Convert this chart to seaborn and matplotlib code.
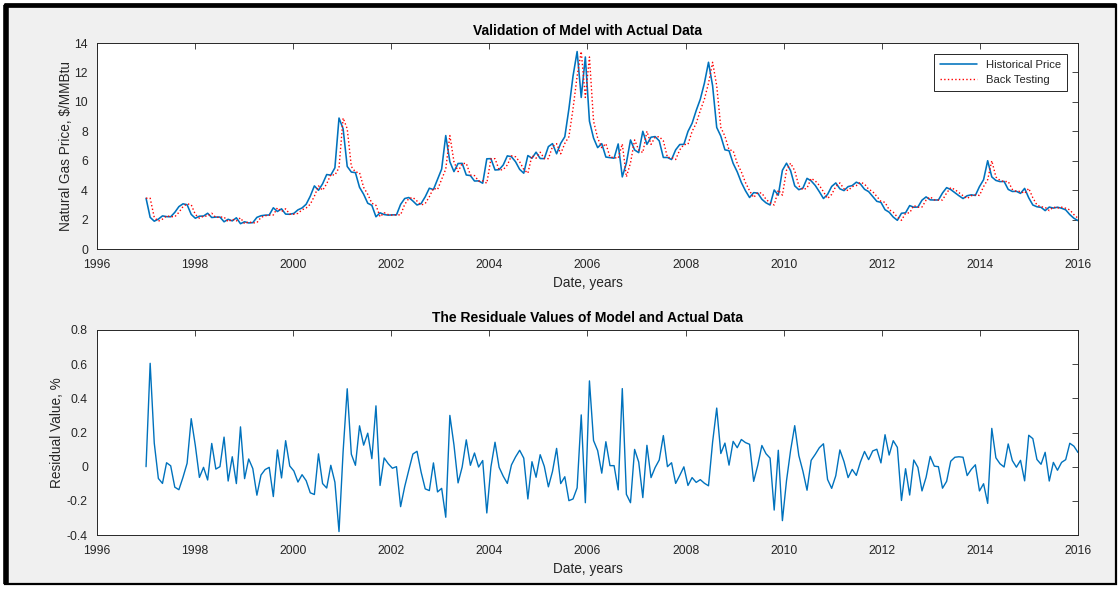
import numpy as np
import pandas as pd
import matplotlib
matplotlib.use("Agg")
import matplotlib.pyplot as plt
import seaborn as sns
from matplotlib.patches import Rectangle
from matplotlib.lines import Line2D

# Monthly Henry Hub natural gas spot price, $/MMBtu, Jan 1997 - Dec 2015
price = [
    3.45, 2.15, 1.89, 2.03, 2.25, 2.20, 2.19, 2.49, 2.88, 3.07, 3.01, 2.35,   # 1997
    2.09, 2.23, 2.24, 2.43, 2.14, 2.17, 2.17, 1.85, 2.02, 1.91, 2.12, 1.72,   # 1998
    1.85, 1.77, 1.79, 2.15, 2.26, 2.30, 2.31, 2.80, 2.55, 2.73, 2.37, 2.36,   # 1999
    2.42, 2.66, 2.79, 3.04, 3.59, 4.29, 3.99, 4.43, 5.06, 5.02, 5.52, 8.90,   # 2000
    8.17, 5.61, 5.23, 5.19, 4.19, 3.72, 3.11, 2.97, 2.19, 2.46, 2.34, 2.30,   # 2001
    2.32, 2.32, 3.03, 3.43, 3.50, 3.26, 2.99, 3.09, 3.55, 4.13, 4.04, 4.74,   # 2002
    5.43, 7.71, 5.93, 5.26, 5.81, 5.82, 5.03, 4.99, 4.62, 4.63, 4.47, 6.13,   # 2003
    6.14, 5.37, 5.39, 5.71, 6.33, 6.27, 5.93, 5.41, 5.15, 6.35, 6.17, 6.58,   # 2004
    6.15, 6.14, 6.96, 7.16, 6.47, 7.18, 7.63, 9.53, 11.75, 13.42, 10.30, 13.05,  # 2005
    8.69, 7.54, 6.89, 7.16, 6.25, 6.21, 6.17, 7.14, 4.90, 5.85, 7.41, 6.73,   # 2006
    6.55, 8.00, 7.11, 7.60, 7.64, 7.35, 6.22, 6.22, 6.08, 6.74, 7.10, 7.11,   # 2007
    7.99, 8.54, 9.41, 10.18, 11.27, 12.69, 11.09, 8.26, 7.67, 6.74, 6.68, 5.82,  # 2008
    5.24, 4.52, 3.96, 3.50, 3.83, 3.80, 3.38, 3.14, 2.99, 4.01, 3.66, 5.35,   # 2009
    5.83, 5.32, 4.29, 4.03, 4.14, 4.80, 4.63, 4.32, 3.89, 3.43, 3.71, 4.25,   # 2010
    4.49, 4.09, 3.97, 4.24, 4.31, 4.54, 4.42, 4.06, 3.90, 3.57, 3.24, 3.17,   # 2011
    2.67, 2.50, 2.17, 1.95, 2.43, 2.46, 2.95, 2.84, 2.85, 3.32, 3.54, 3.34,   # 2012
    3.33, 3.33, 3.81, 4.17, 4.04, 3.83, 3.62, 3.43, 3.62, 3.68, 3.64, 4.24,   # 2013
    4.71, 6.00, 4.90, 4.66, 4.58, 4.59, 4.05, 3.91, 3.92, 3.78, 4.12, 3.48,   # 2014
    2.99, 2.87, 2.83, 2.61, 2.85, 2.78, 2.84, 2.77, 2.66, 2.34, 2.09, 1.93,   # 2015
]

# One-step-ahead back-test forecast for each month
back_testing = [
    3.45, 3.45, 2.15, 1.89, 2.03, 2.25, 2.20, 2.19, 2.49, 2.88, 3.07, 3.01,
    2.35, 2.09, 2.23, 2.24, 2.43, 2.14, 2.17, 2.17, 1.85, 2.02, 1.91, 2.12,
    1.72, 1.85, 1.77, 1.79, 2.15, 2.26, 2.30, 2.31, 2.80, 2.55, 2.73, 2.37,
    2.36, 2.42, 2.66, 2.79, 3.04, 3.59, 4.29, 3.99, 4.43, 5.06, 5.02, 5.52,
    8.90, 8.17, 5.61, 5.23, 5.19, 4.19, 3.72, 3.11, 2.97, 2.19, 2.46, 2.34,
    2.30, 2.32, 2.32, 3.03, 3.43, 3.50, 3.26, 2.99, 3.09, 3.55, 4.13, 4.04,
    4.74, 5.43, 7.71, 5.93, 5.26, 5.81, 5.82, 5.03, 4.99, 4.62, 4.63, 4.47,
    6.13, 6.14, 5.37, 5.39, 5.71, 6.33, 6.27, 5.93, 5.41, 5.15, 6.35, 6.17,
    6.58, 6.15, 6.14, 6.96, 7.16, 6.47, 7.18, 7.63, 9.53, 11.75, 13.42, 10.30,
    13.05, 8.69, 7.54, 6.89, 7.16, 6.25, 6.21, 6.17, 7.14, 4.90, 5.85, 7.41,
    6.73, 6.55, 8.00, 7.11, 7.60, 7.64, 7.35, 6.22, 6.22, 6.08, 6.74, 7.10,
    7.11, 7.99, 8.54, 9.41, 10.18, 11.27, 12.69, 11.09, 8.26, 7.67, 6.74, 6.68,
    5.82, 5.24, 4.52, 3.96, 3.50, 3.83, 3.80, 3.38, 3.14, 2.99, 4.01, 3.66,
    5.35, 5.83, 5.32, 4.29, 4.03, 4.14, 4.80, 4.63, 4.32, 3.89, 3.43, 3.71,
    4.25, 4.49, 4.09, 3.97, 4.24, 4.31, 4.54, 4.42, 4.06, 3.90, 3.57, 3.24,
    3.17, 2.67, 2.50, 2.17, 1.95, 2.43, 2.46, 2.95, 2.84, 2.85, 3.32, 3.54,
    3.34, 3.33, 3.33, 3.81, 4.17, 4.04, 3.83, 3.62, 3.43, 3.62, 3.68, 3.64,
    4.24, 4.71, 6.00, 4.90, 4.66, 4.58, 4.59, 4.05, 3.91, 3.92, 3.78, 4.12,
    3.48, 2.99, 2.87, 2.83, 2.61, 2.85, 2.78, 2.84, 2.77, 2.66, 2.34, 2.09,
]

# Relative residual of the back test against the actual price
residual = [
    0.000, 0.605, 0.138, -0.069, -0.098, 0.023, 0.005, -0.120, -0.135, -0.062, 0.020, 0.281,
    0.124, -0.063, -0.004, -0.078, 0.136, -0.014, 0.000, 0.173, -0.084, 0.058, -0.099, 0.233,
    -0.070, 0.045, -0.011, -0.167, -0.049, -0.017, -0.004, -0.175, 0.098, -0.066, 0.152, 0.004,
    -0.025, -0.090, -0.047, -0.082, -0.153, -0.163, 0.075, -0.099, -0.125, 0.008, -0.091, -0.380,
    0.089, 0.456, 0.073, 0.008, 0.239, 0.126, 0.196, 0.047, 0.356, -0.110, 0.051, 0.017,
    -0.009, 0.000, -0.234, -0.117, -0.020, 0.074, 0.090, -0.032, -0.130, -0.140, 0.022, -0.148,
    -0.127, -0.296, 0.300, 0.127, -0.095, -0.002, 0.157, 0.008, 0.080, -0.002, 0.036, -0.271,
    -0.002, 0.143, -0.004, -0.056, -0.098, 0.010, 0.057, 0.096, 0.050, -0.189, 0.029, -0.062,
    0.070, 0.002, -0.118, -0.028, 0.107, -0.099, -0.059, -0.199, -0.189, -0.124, 0.303, -0.211,
    0.502, 0.153, 0.094, -0.038, 0.146, 0.006, 0.006, -0.136, 0.457, -0.162, -0.211, 0.101,
    0.027, -0.181, 0.125, -0.064, -0.005, 0.039, 0.182, 0.000, 0.023, -0.098, -0.051, -0.001,
    -0.110, -0.064, -0.092, -0.076, -0.097, -0.112, 0.144, 0.343, 0.077, 0.138, 0.009, 0.148,
    0.111, 0.159, 0.141, 0.131, -0.086, 0.008, 0.124, 0.076, 0.050, -0.254, 0.096, -0.316,
    -0.082, 0.096, 0.240, 0.065, -0.027, -0.138, 0.037, 0.072, 0.111, 0.134, -0.075, -0.127,
    -0.053, 0.098, 0.030, -0.064, -0.016, -0.051, 0.027, 0.089, 0.041, 0.092, 0.102, 0.022,
    0.187, 0.068, 0.152, 0.113, -0.198, -0.012, -0.166, 0.039, -0.004, -0.142, -0.062, 0.060,
    0.003, 0.000, -0.126, -0.086, 0.032, 0.055, 0.058, 0.055, -0.052, -0.016, 0.011, -0.142,
    -0.100, -0.215, 0.224, 0.052, 0.017, -0.002, 0.133, 0.036, -0.003, 0.037, -0.083, 0.184,
    0.164, 0.042, 0.014, 0.084, -0.084, 0.025, -0.021, 0.025, 0.041, 0.137, 0.120, 0.083,
]

year_ticks = list(range(1996, 2017, 2))
price_ticks = list(range(0, 15, 2))
residual_ticks = [-0.4, -0.2, 0, 0.2, 0.4, 0.6, 0.8]

# Time axis: the series spans 1997 to 2016
years = np.linspace(1997, 2016, len(price))

df = pd.DataFrame({
    "year": years,
    "Historical Price": price,
    "Back Testing": back_testing,
    "Residual": residual,
})

sns.set_style("white")
plt.rcParams["font.family"] = ["Liberation Sans", "DejaVu Sans"]
plt.rcParams["axes.unicode_minus"] = False

W, H = 1118, 589
fig = plt.figure(figsize=(W / 100, H / 100), dpi=100, facecolor="white")

# Gray window panel framed in black: heavier on the left and top edges
fig.patches.append(Rectangle((5 / W, 1 - 584 / H), 1111 / W, 579 / H,
                             transform=fig.transFigure, facecolor="#f0f0f0",
                             edgecolor="black", linewidth=1.6, zorder=-10))
fig.lines.append(Line2D([5.5 / W, 5.5 / W], [1 - 584 / H, 1 - 5 / H],
                        transform=fig.transFigure, color="black", linewidth=4.0,
                        solid_capstyle="butt"))
fig.lines.append(Line2D([4 / W, 1116 / W], [1 - 5 / H, 1 - 5 / H],
                        transform=fig.transFigure, color="black", linewidth=3.4,
                        solid_capstyle="butt"))

def px_axes(left, top, right, bottom):
    return fig.add_axes([left / W, 1 - bottom / H, (right - left) / W, (bottom - top) / H])

ax1 = px_axes(97, 43, 1078, 249)
ax2 = px_axes(97, 330, 1078, 535)

blue = "#0072BD"
dark = "#262626"

sns.lineplot(data=df, x="year", y="Historical Price", ax=ax1, color=blue,
             linewidth=1.15, sort=False, estimator=None, label="Historical Price")
sns.lineplot(data=df, x="year", y="Back Testing", ax=ax1, color="red",
             linewidth=1.0, linestyle=":", sort=False, estimator=None, label="Back Testing")
sns.lineplot(data=df, x="year", y="Residual", ax=ax2, color=blue,
             linewidth=1.0, sort=False, estimator=None)

for ax in (ax1, ax2):
    ax.set_facecolor("white")
    ax.set_xlim(1996, 2016)
    ax.set_xticks(year_ticks)
    ax.set_xticklabels([str(t) for t in year_ticks])
    ax.tick_params(direction="in", top=True, right=True, length=4, width=0.6,
                   color=dark, labelcolor=dark, labelsize=8.8)
    ax.tick_params(axis="x", pad=7.5)
    ax.tick_params(axis="y", pad=6.5)
    for s in ax.spines.values():
        s.set_color(dark)
        s.set_linewidth(0.7)
        s.set_visible(True)
    ax.set_xlabel("Date, years", fontsize=9.8, color=dark, labelpad=3)

ax1.set_ylim(0, 14)
ax1.set_yticks(price_ticks)
ax1.set_yticklabels([str(t) for t in price_ticks])
ax1.set_ylabel("Natural Gas Price, $/MMBtu", fontsize=9.8, color=dark, labelpad=1)
ax1.set_title("Validation of Mdel with Actual Data", fontsize=10,
              fontweight="bold", color="black", pad=6)

ax2.set_ylim(-0.4, 0.8)
ax2.set_yticks(residual_ticks)
ax2.set_yticklabels([f"{t:g}" for t in residual_ticks])
ax2.set_ylabel("Residual Value, %", fontsize=9.8, color=dark, labelpad=2)
ax2.set_title("The Residuale Values of Model and Actual Data", fontsize=10,
              fontweight="bold", color="black", pad=6)

leg = ax1.legend(loc="upper right", fontsize=8.1, frameon=True, fancybox=False,
                 framealpha=1, edgecolor=dark, handlelength=3.3,
                 borderaxespad=0.95, borderpad=0.55, labelspacing=0.45)
leg.get_frame().set_linewidth(0.7)

fig.savefig("out.png", dpi=100, facecolor=fig.get_facecolor())
